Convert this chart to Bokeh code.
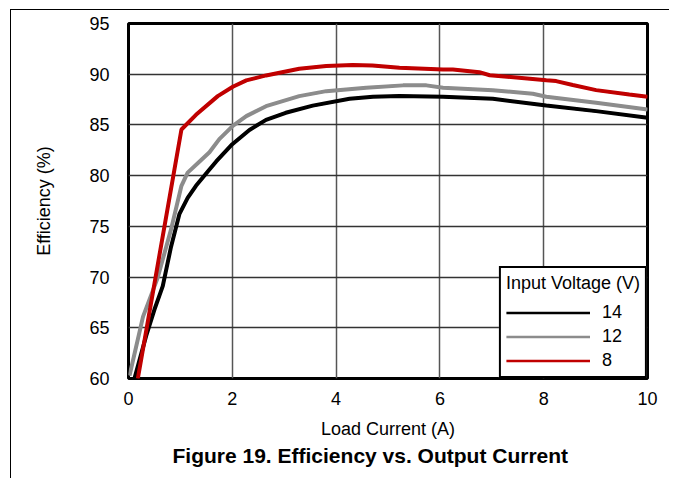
from bokeh.plotting import figure
from bokeh.models import Range1d, FixedTicker, Legend, LegendItem, Title
from bokeh.embed import file_html
from bokeh.resources import INLINE

# Data
x14 = [0.12, 0.34, 0.5, 0.66, 0.82, 0.98, 1.14, 1.3, 1.56, 1.69, 2.0, 2.33, 2.65, 3.03, 3.55, 4.26, 4.71, 5.22, 6.06, 7.02, 8.05, 9.01, 10.0]
y14 = [60.1, 64.2, 66.8, 69.1, 73.0, 76.2, 77.8, 79.0, 80.6, 81.4, 83.1, 84.5, 85.5, 86.2, 86.9, 87.58, 87.78, 87.84, 87.78, 87.58, 86.92, 86.36, 85.71]

x12 = [0.02, 0.28, 0.56, 0.82, 1.02, 1.14, 1.37, 1.56, 1.75, 2.01, 2.27, 2.65, 3.29, 3.81, 4.58, 5.29, 5.74, 6.06, 7.02, 7.79, 8.05, 9.01, 10.0]
y12 = [60.3, 66.1, 69.9, 74.7, 79.0, 80.3, 81.4, 82.3, 83.6, 84.9, 85.87, 86.85, 87.84, 88.33, 88.66, 88.9, 88.9, 88.66, 88.43, 88.07, 87.78, 87.19, 86.53]

x8 = [0.18, 1.02, 1.3, 1.72, 2.01, 2.27, 2.65, 3.29, 3.81, 4.32, 4.7, 5.22, 6.06, 6.25, 6.76, 6.96, 8.05, 8.24, 8.56, 9.01, 9.65, 10.0]
y8 = [60.0, 84.55, 86.0, 87.84, 88.77, 89.39, 89.88, 90.54, 90.8, 90.9, 90.87, 90.64, 90.47, 90.47, 90.2, 89.9, 89.4, 89.32, 88.93, 88.43, 88.0, 87.78]

series_labels = ["14", "12", "8"]
series_colors = ["#000000", "#8c8c8c", "#c00000"]
x_ticks = [0, 2, 4, 6, 8, 10]
y_ticks = [60, 65, 70, 75, 80, 85, 90, 95]

FONT = "Liberation Sans"

p = figure(
    output_backend="svg", toolbar_location=None,
    frame_width=519, frame_height=355,
    min_border_left=117, min_border_top=13, min_border_right=22, min_border_bottom=100,
    x_range=Range1d(0, 10), y_range=Range1d(60, 95),
)
p.styles = {"border-top": "1px solid black", "border-left": "1px solid black",
            "margin-left": "10px", "margin-top": "9px"}

p.outline_line_color = "black"
p.outline_line_width = 3
p.background_fill_color = "white"
p.border_fill_color = "white"

p.xgrid.grid_line_color = "#555555"
p.xgrid.grid_line_width = 1.5
p.ygrid.grid_line_color = "#333333"
p.ygrid.grid_line_width = 1.3

for ax in (p.xaxis[0], p.yaxis[0]):
    ax.axis_line_color = None
    ax.major_tick_line_color = None
    ax.minor_tick_line_color = None
    ax.major_label_text_font = FONT
    ax.major_label_text_font_size = "18px"
    ax.major_label_text_color = "black"
    ax.axis_label_text_font = FONT
    ax.axis_label_text_font_size = "18px"
    ax.axis_label_text_font_style = "normal"
    ax.axis_label_text_color = "black"

p.xaxis.ticker = FixedTicker(ticks=x_ticks)
p.yaxis.ticker = FixedTicker(ticks=y_ticks)
p.xaxis.axis_label = "Load Current (A)"
p.yaxis.axis_label = "Efficiency (%)"
p.xaxis.major_label_standoff = 7
p.xaxis.axis_label_standoff = 11
p.yaxis.major_label_standoff = 13
p.yaxis.axis_label_standoff = 32

items = []
for xv, yv, lab, col in zip([x14, x12, x8], [y14, y12, y8], series_labels, series_colors):
    leg_r = p.line(xv, yv, line_color=col, line_width=2.5)
    p.line(xv, yv, line_color=col, line_width=4)
    items.append(LegendItem(label=lab, renderers=[leg_r]))

legend = Legend(
    items=items, location="bottom_right", title="Input Voltage (V)",
    title_text_font=FONT, title_text_font_size="18px", title_text_font_style="normal",
    title_text_color="black",
    label_text_font=FONT, label_text_font_size="18px", label_text_color="black",
    border_line_color="black", border_line_width=2.5, border_line_alpha=1.0,
    glyph_width=84, glyph_height=19, label_height=19, label_standoff=12,
    spacing=3, padding=5, margin=0, title_standoff=8,
    background_fill_alpha=1.0,
)
p.add_layout(legend, "center")

t = Title(text="Figure 19. Efficiency vs. Output Current", align="left", offset=44,
          text_font=FONT, text_font_size="21px", text_font_style="bold",
          text_color="black", standoff=1)
p.add_layout(t, "below")

open("out.html", "w").write(file_html(p, INLINE))
